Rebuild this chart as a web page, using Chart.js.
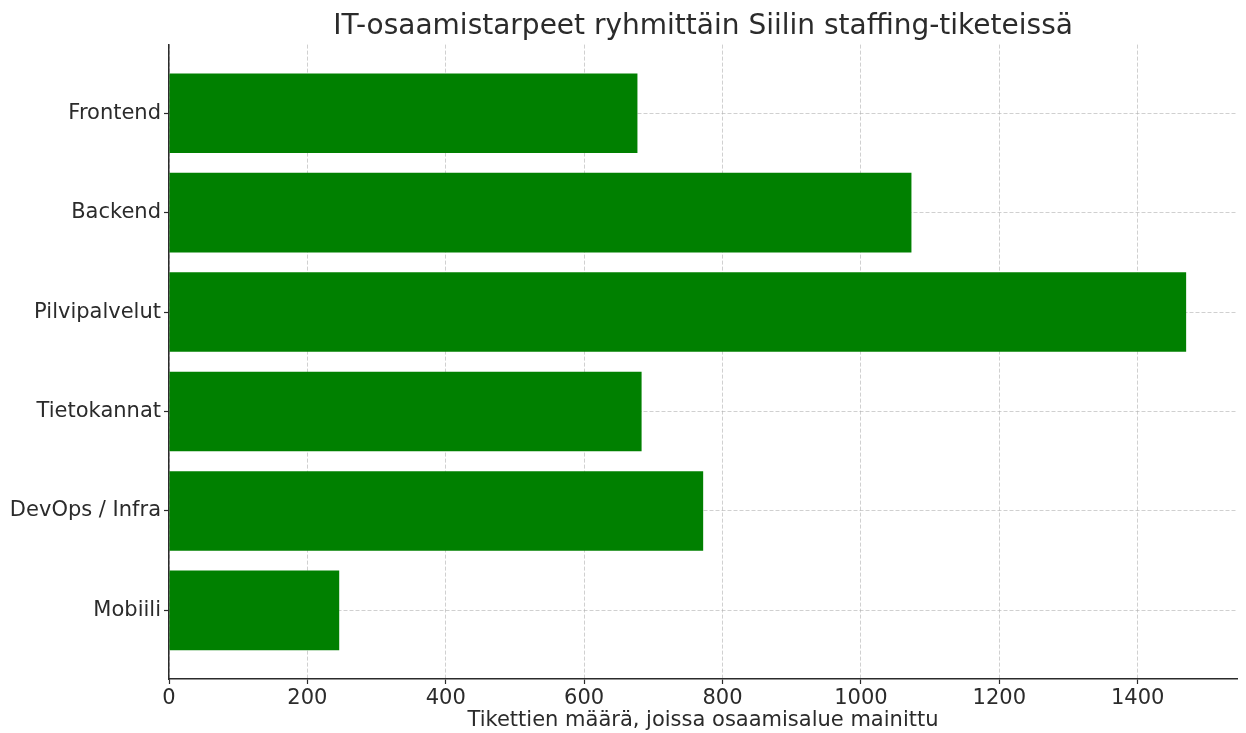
<!DOCTYPE html>
<html>
<head>
<meta charset="utf-8">
<script src="https://cdn.jsdelivr.net/npm/chart.js@4"></script>
<style>
  html, body { margin: 0; padding: 0; background: #fff; }
  #wrap { width: 1246px; height: 733px; }
</style>
</head>
<body>
<div id="wrap"><canvas id="myChart" width="1246" height="733"></canvas></div>
<script>
const categories = ['Frontend', 'Backend', 'Pilvipalvelut', 'Tietokannat', 'DevOps / Infra', 'Mobiili'];
const counts = [677, 1073, 1470, 683, 772, 246];
const xTicks = [0, 200, 400, 600, 800, 1000, 1200, 1400];

const titleText = 'IT-osaamistarpeet ryhmittäin Siilin staffing-tiketeissä';
const xLabel = 'Tikettien määrä, joissa osaamisalue mainittu';

const textColor = '#2b2b2b';
const gridColor = 'rgba(176,176,176,0.6)';

// matplotlib-like limits: bars of height 0.8, 5% margins
const yMin = -0.4 - 0.05 * (categories.length - 0.2);
const yMax = categories.length - 0.6 + 0.05 * (categories.length - 0.2);
const xMax = Math.max(...counts) * 1.05;

const points = counts.map(function (v, i) {
    return { x: v, y: i };
});

Chart.defaults.font.family = '"DejaVu Sans", sans-serif';
Chart.defaults.color = textColor;

var myChart = new Chart(
    document.getElementById('myChart'),
    {
        type: 'bar',
        data: {
            datasets: [{
                data: points,
                backgroundColor: '#008000',
                borderWidth: 0,
                barPercentage: 0.8,
                categoryPercentage: 1.0
            }]
        },
        options: {
            indexAxis: 'y',
            responsive: false,
            animation: false,
            layout: { padding: { left: 0, right: 9, top: 0, bottom: 0 } },
            plugins: {
                legend: { display: false },
                tooltip: { enabled: false },
                title: {
                    display: true,
                    text: titleText,
                    fullSize: false,
                    color: textColor,
                    font: { size: 28, weight: 'normal' },
                    padding: { top: 10, bottom: 1 }
                }
            },
            scales: {
                x: {
                    type: 'linear',
                    min: 0,
                    max: xMax,
                    afterFit: function (scale) { scale.height = 54; },
                    afterBuildTicks: function (scale) {
                        scale.ticks = xTicks.map(function (v) { return { value: v }; });
                    },
                    ticks: {
                        color: textColor,
                        font: { size: 21 },
                        padding: 2,
                        maxRotation: 0,
                        callback: function (v) { return String(v); }
                    },
                    grid: {
                        color: gridColor,
                        lineWidth: 1,
                        tickLength: 5,
                        tickColor: textColor,
                        tickWidth: 1.2
                    },
                    border: { display: true, color: textColor, width: 1.5, dash: [4, 2] },
                    title: {
                        display: true,
                        text: xLabel,
                        color: textColor,
                        font: { size: 21 },
                        padding: { top: 0, bottom: 0 }
                    }
                },
                y: {
                    type: 'linear',
                    min: yMin,
                    max: yMax,
                    reverse: true,
                    offset: false,
                    afterFit: function (scale) { scale.width = 169; },
                    afterBuildTicks: function (scale) {
                        scale.ticks = categories.map(function (c, i) { return { value: i }; });
                    },
                    ticks: {
                        color: textColor,
                        font: { size: 21 },
                        padding: 3,
                        callback: function (v) { return categories[v]; }
                    },
                    grid: {
                        offset: false,
                        color: gridColor,
                        lineWidth: 1,
                        tickLength: 5,
                        tickColor: textColor,
                        tickWidth: 1.2
                    },
                    border: { display: true, color: textColor, width: 1.5, dash: [4, 2] }
                }
            }
        }
    }
);
</script>
</body>
</html>
